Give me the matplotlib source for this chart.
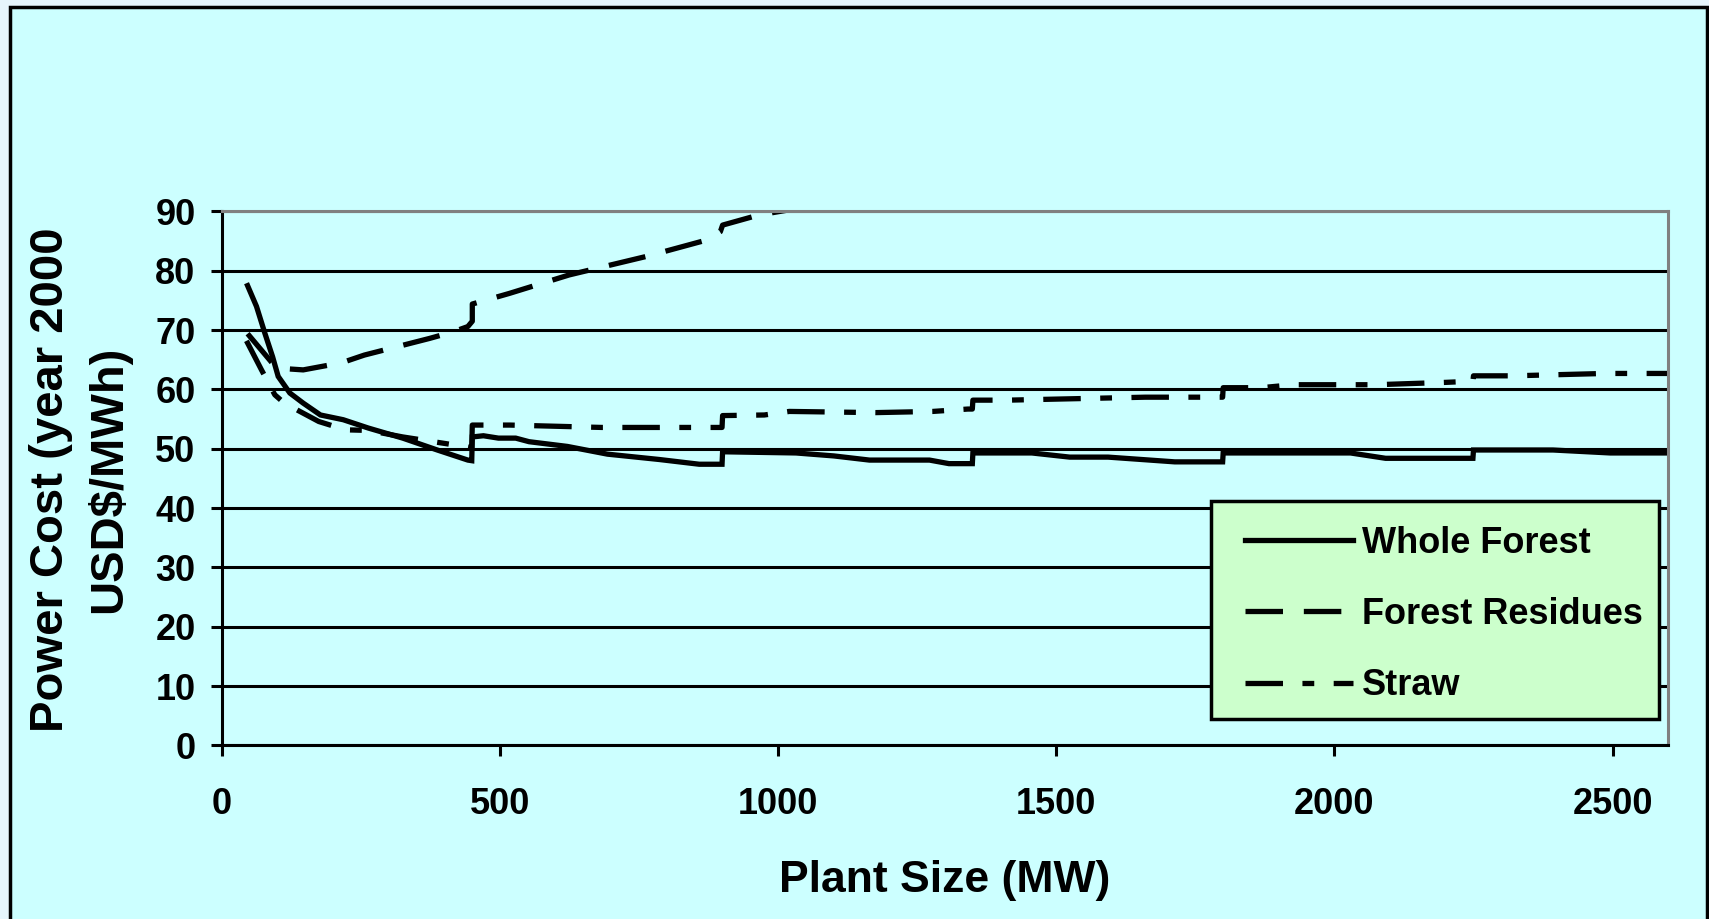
import matplotlib.pyplot as plt
from matplotlib.patches import Rectangle

plt.rcParams['font.family'] = ['Liberation Sans', 'DejaVu Sans']
plt.rcParams['font.weight'] = 'bold'
plt.rcParams['lines.scale_dashes'] = False

# Whole forest (units of 450 MW)
wf_mw = [46, 62, 77, 91, 101, 122, 146, 177, 218, 263, 325, 387, 442, 449, 450, 470, 497, 528, 552, 621,
         693, 786, 858, 899, 900, 1032, 1100, 1164, 1272, 1307, 1349, 1350, 1456, 1524, 1593, 1713, 1799,
         1800, 2029, 2092, 2235, 2249, 2250, 2393, 2496, 2600]
wf_cost = [77.5, 74.0, 69.5, 65.5, 62.2, 59.4, 57.7, 55.7, 54.9, 53.5, 51.8, 49.8, 48.1, 48.0, 52.0, 52.2,
           51.8, 51.8, 51.2, 50.4, 49.1, 48.2, 47.4, 47.4, 49.5, 49.3, 48.8, 48.1, 48.1, 47.5, 47.5, 49.3,
           49.3, 48.6, 48.6, 47.8, 47.8, 49.3, 49.3, 48.4, 48.4, 48.4, 49.8, 49.8, 49.3, 49.3]

# Forest residues
fr_mw = [46, 98, 146, 215, 256, 373, 415, 442, 450, 450, 517, 624, 762, 872, 896, 900, 965, 1034, 1120]
fr_cost = [69.4, 63.6, 63.3, 64.5, 65.8, 68.6, 69.7, 70.6, 71.5, 74.4, 76.2, 79.3, 82.4, 85.2, 86.6,
           87.7, 89.4, 90.5, 92.0]

# Straw
st_mw = [44, 71, 95, 112, 174, 222, 263, 325, 435, 449, 450, 518, 683, 899, 900, 975, 1020, 1175, 1278,
         1341, 1349, 1350, 1413, 1660, 1799, 1800, 1868, 1926, 2075, 2201, 2249, 2250, 2321, 2487, 2600]
st_cost = [68.2, 63.3, 59.1, 57.7, 54.6, 53.2, 53.1, 52.0, 50.4, 50.2, 54.0, 54.0, 53.6, 53.6, 55.6, 55.7,
           56.3, 56.1, 56.3, 56.7, 56.7, 58.2, 58.2, 58.7, 58.7, 60.3, 60.3, 60.8, 60.8, 61.2, 61.4, 62.3,
           62.3, 62.7, 62.7]

x_ticks = [0, 500, 1000, 1500, 2000, 2500]
y_ticks = [0, 10, 20, 30, 40, 50, 60, 70, 80, 90]

fig = plt.figure(figsize=(17.09, 9.19), dpi=100, facecolor='#E6F5FC')

# chart area frame
fig.patches.append(Rectangle((0.0059, -0.02), 0.9929, 1.0124, transform=fig.transFigure,
                             facecolor='#CCFFFF', edgecolor='black', linewidth=2.5, zorder=-5))

ax = fig.add_axes([0.1299, 0.1888, 0.8462, 0.5811])
ax.set_facecolor('#CCFFFF')

ax.plot(wf_mw, wf_cost, color='black', lw=3.8, solid_joinstyle='miter', label='Whole Forest')
ax.plot(fr_mw, fr_cost, color='black', lw=3.8, linestyle=(0, (27, 15)), dash_capstyle='butt',
        label='Forest Residues')
ax.plot(st_mw, st_cost, color='black', lw=3.8, linestyle=(0, (27, 14, 8.5, 14)), dash_capstyle='butt',
        label='Straw')

ax.set_xlim(0, 2600)
ax.set_ylim(0, 90)
ax.set_xticks(x_ticks)
ax.set_yticks(y_ticks)
ax.yaxis.grid(True, color='black', lw=2.2)
ax.set_axisbelow(True)

for s in ['top', 'right']:
    ax.spines[s].set_color('#808080')
    ax.spines[s].set_linewidth(2.2)
for s in ['left', 'bottom']:
    ax.spines[s].set_color('black')
    ax.spines[s].set_linewidth(2.2)

ax.tick_params(axis='both', direction='out', length=8, width=2.2, labelsize=26)
ax.tick_params(axis='y', pad=11)
ax.tick_params(axis='x', pad=22)
for lbl in ax.get_xticklabels() + ax.get_yticklabels():
    lbl.set_fontweight('bold')

ax.set_xlabel('Plant Size (MW)', fontsize=32, fontweight='bold', labelpad=27)
fig.text(0.030, 0.478, 'Power Cost (year 2000', rotation=90, ha='center', va='center',
         fontsize=34, fontweight='bold')
fig.text(0.0635, 0.478, 'USD$/MWh)', rotation=90, ha='center', va='center',
         fontsize=34, fontweight='bold')

# legend box
ax.add_patch(Rectangle((1211 / 1709, 1 - 719 / 919), 448 / 1709, 218 / 919, transform=fig.transFigure,
                       facecolor='#CCFFCC', edgecolor='black', linewidth=2.5, clip_on=False, zorder=4))
leg = ax.legend(loc='upper left', bbox_to_anchor=(1245 / 1709, 1 - 526 / 919),
                bbox_transform=fig.transFigure, frameon=False,
                fontsize=26, handlelength=3.0, handletextpad=0.25, labelspacing=1.0,
                borderpad=0, borderaxespad=0)
leg.set_zorder(5)

fig.savefig('out.png', dpi=100, facecolor=fig.get_facecolor())
